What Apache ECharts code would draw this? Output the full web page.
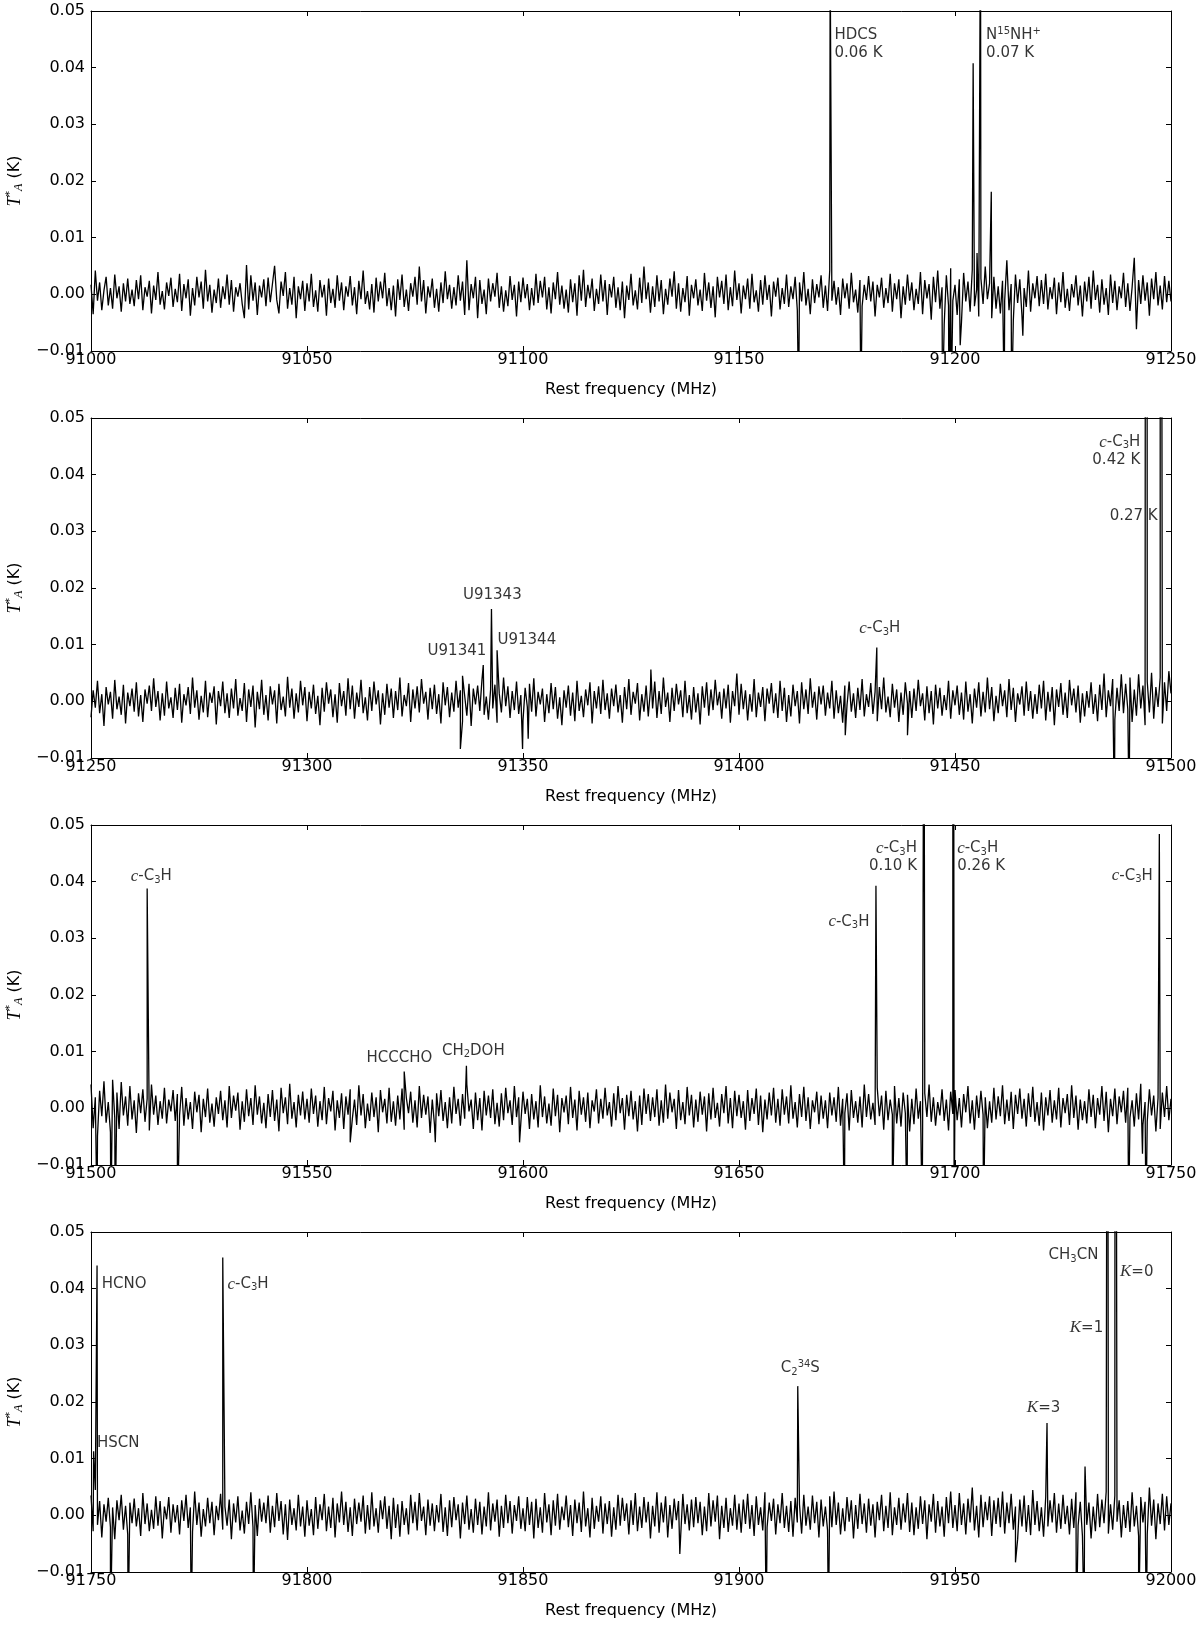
<!DOCTYPE html>
<html>
<head>
<meta charset="utf-8">
<script src="https://cdn.jsdelivr.net/npm/echarts@6/dist/echarts.min.js"></script>
<style>
  html, body { margin: 0; background: #fff; }
  #main { width: 1200px; height: 1625px; }
</style>
</head>
<body>
<div id="main"></div>
<script>
// frequency ranges of the four panels (MHz)
const panelStart = [91000, 91250, 91500, 91750];
const panelEnd = [91250, 91500, 91750, 92000];
const freqTickStep = 50;
const tempMin = -0.01, tempMax = 0.05, tempTickStep = 0.01;

// baseline channels, every 0.5 MHz, in steps of 0.14 mK
const noiseStep = 0.5;
const noiseUnit = 0.00014;
const noise1 = [
  12,-25,30,-8,15,-20,5,22,-14,8,-18,25,-5,10,-22,14,-9,20,-12,6,
  -15,18,-6,24,-20,9,-3,17,-24,11,-7,28,-13,4,-19,15,-2,21,-16,7,
  -10,26,-21,13,-5,19,-27,8,-14,22,-4,16,-18,31,-9,12,-23,6,-11,20,
  -17,10,-6,25,-13,18,-22,9,-3,14,-12,-30,37,-19,24,-8,15,-26,11,-4,
  19,-15,21,-10,13,36,-7,-24,16,-2,28,-18,8,-13,22,-30,10,-6,17,-21,
  14,-9,26,-16,5,-22,18,-4,12,-27,20,-11,7,-17,24,-8,15,-20,10,-3,
  23,-14,9,-25,17,-6,30,-12,4,-19,13,-23,21,-9,16,-5,27,-15,8,-20,
  11,-28,19,-7,25,-16,6,-21,14,-3,22,-13,35,-9,18,-24,10,-4,20,-17,
  7,-22,15,-11,29,-6,12,-18,9,-14,24,-8,16,-26,43,-20,13,-5,22,-30,
  18,-12,6,-25,20,-9,14,-3,27,-17,10,-22,5,-15,23,-7,12,-28,16,-10,
  21,-5,13,-20,8,-14,26,-11,17,-4,22,-19,9,-24,15,-6,28,-13,11,-18,
  6,-23,19,-10,14,-27,24,-8,31,-16,12,-5,20,-21,7,-12,25,-9,18,-26,
  13,-4,22,-17,9,-20,16,-30,11,-7,26,-14,5,-19,21,-11,35,-6,15,-23,
  10,-16,24,-9,18,-25,7,-13,20,-3,29,-18,14,-22,8,-10,23,-27,12,-5,
  19,-14,6,-21,27,-8,15,-17,10,-29,22,-4,17,-12,25,-20,9,-15,30,-7,
  14,-24,11,-6,20,-18,26,-10,5,-22,18,-13,24,-7,12,-28,16,-3,21,-19,
  8,-12,25,-16,10,-6,22,-20,15,-9,28,-14,7,-25,19,-11,13,-4,24,-17,
  11,-21,30,-8,17,-13,9,-26,20,-5,14,-18,27,-10,6,-23,18,-15,12,-7,
  23,-9,16,-28,12,-4,21,-17,8,-11,26,-22,14,-6,19,-30,10,-13,25,-8,
  15,-20,7,-12,28,-25,18,-5,13,-32,22,-10,30,-18,9,-38,24,-14,33,-8,
  12,-26,19,-35,27,-9,16,-22,31,-15,6,-28,20,-12,35,-6,14,-30,22,-18,
  10,-24,17,-8,43,-20,13,-33,25,-11,19,-27,8,-16,30,-22,14,-5,23,-15,
  18,-12,26,-19,9,-6,21,-25,15,-10,28,-17,7,-21,13,-4,24,-14,11,-28,
  16,-9,22,-18,30,-7,12,-23,19,-13,8,-26,25,-11,17,-20,10,-5,27,-16,
  14,-21,9,46,-44,18,-12,24,-8,15,-27,20,-6,28,-14,11,-19,23,-10,17,
  -9
];
const noise2 = [
  -20,14,-8,26,-15,9,-31,18,-4,12,-22,27,-10,6,-17,21,-28,11,-6,16,
  -13,24,-19,8,-26,15,-3,20,-12,29,-7,13,-24,10,-18,25,-9,5,-21,17,
  -11,22,-27,9,-5,18,-16,30,-8,14,-23,7,-14,26,-20,11,-2,19,-29,13,
  -6,25,-15,10,-21,16,-9,28,-18,4,-12,23,-26,15,-7,20,-33,12,-10,27,
  -17,8,-24,19,-4,14,-28,22,-11,6,-19,31,-8,16,-22,10,-14,26,-5,18,
  -25,12,-9,21,-16,7,-30,17,-13,24,-3,15,-20,9,-27,23,-6,13,-18,29,
  -10,20,-22,11,-7,27,-15,5,-24,18,-12,25,-4,14,-29,10,-17,22,-8,16,
  -21,13,-11,30,-19,8,-6,23,-26,15,-9,19,-14,28,-3,12,-23,17,-10,21,
  -16,9,-28,24,-5,18,-20,11,-13,26,-8,14,-25,7,-18,22,-31,16,-4,20,
  -12,27,-17,6,-23,15,-9,21,-27,10,-14,30,-6,19,-21,13,-11,25,-16,8,
  -24,17,-7,22,-13,29,-19,12,-4,16,-26,9,-15,23,-10,18,-22,5,-30,14,
  -8,20,-18,11,-25,26,-12,7,-20,15,-5,24,-28,13,-9,19,-16,27,-11,10,
  -22,16,-6,21,-14,8,-27,18,-10,28,-17,12,-3,23,-24,9,-13,20,-19,15,
  -9,25,-21,13,-16,30,-7,11,-26,17,-12,22,-4,14,-20,26,-15,8,-23,18,
  -14,10,-29,19,-8,24,-18,15,-11,27,-5,12,-22,16,-9,21,-27,13,-6,35,
  -17,22,-10,14,-24,9,-13,28,-20,11,-7,18,-25,16,-3,23,-15,10,-21,26,
  -12,17,-26,8,-19,21,-6,13,-28,24,-10,15,-16,29,-8,12,-23,19,-4,20,
  -18,11,-9,26,-22,14,-15,7,-27,20,-5,25,-13,10,-21,17,-11,28,-19,9,
  -7,23,-16,12,-25,18,-10,30,-14,6,-20,22,-8,15,-26,11,-17,24,-3,13,
  -21,16,-12,27,-6,10,-24,19,-15,13,-29,21,-9,17,-18,8,-11,26,-22,14,
  -5,20,-17,11,-23,25,-13,9,-28,16,-8,24,-19,12,-14,30,-10,18,-25,7,
  -15,22,-6,14,-20,28,-11,17,-26,10,-4,19,-18,25,-12,13,-22,9,-16,21,
  -9,26,-24,12,-13,18,-30,15,-7,23,-17,11,-21,27,-5,16,-14,20,-27,10,
  -19,13,-8,24,-16,9,-25,21,-11,35,-20,14,-6,28,-23,17,-12,34,-15,22,
  -10,30,-26,15,-18,34,-9,20,-30,25,-14,36,-22,18,-7,30,-28,24,-12,38,
  10
];
const noise3 = [
  30,-25,14,-35,22,-10,34,-18,8,-30,36,-12,20,-26,33,-9,15,-22,28,-14,
  10,-31,19,-6,24,-17,12,-28,30,-8,16,-21,9,-13,26,-19,11,-4,23,-16,
  18,-9,27,-22,13,-14,8,-26,21,-5,17,-30,12,-11,25,-18,6,-23,14,-7,
  22,-15,10,-24,28,-12,16,-3,20,-27,9,-17,24,-10,13,-21,29,-8,15,-19,
  7,-25,18,-11,23,-16,11,-29,26,-6,14,-20,31,-13,8,-24,17,-9,21,-14,
  12,-18,25,-7,16,-23,9,-15,27,-20,13,-4,22,-28,10,-12,19,-26,15,-8,
  24,-13,11,-21,29,-9,18,-25,6,-16,20,-11,14,-30,23,-5,12,-19,26,-17,
  9,-22,16,-14,25,-27,13,-6,21,-18,10,-24,28,-12,17,-8,15,-31,11,-20,
  19,-10,23,-16,8,-25,14,-19,27,-7,12,-22,18,-13,30,-4,11,-26,20,-15,
  13,-28,22,-9,16,-12,24,-20,7,-23,19,-15,26,-6,10,-21,28,-11,14,-18,
  21,-7,12,-26,18,-14,9,-24,29,-11,15,-19,6,-22,25,-10,17,-30,13,-5,
  16,-20,27,-12,11,-28,22,-8,14,-17,20,-25,10,-4,24,-19,12,-13,26,-9,
  8,-23,19,-15,28,-6,13,-27,17,-10,22,-14,9,-29,16,-21,25,-7,18,-16,
  14,-11,24,-22,10,-18,30,-13,20,-5,12,-26,23,-15,8,-20,27,-9,17,-24,
  11,-17,21,-8,15,-29,19,-14,26,-12,7,-23,18,-6,28,-19,13,-25,22,-10,
  17,-12,9,-27,23,-16,13,-7,25,-21,16,-30,11,-14,20,-9,26,-18,12,-22,
  24,-8,15,-19,29,-13,8,-24,18,-11,27,-16,14,-26,10,-5,21,-20,16,-13,
  10,-25,20,-9,14,-17,27,-22,12,-6,19,-28,23,-12,9,-18,15,-24,30,-11,
  18,-14,7,-21,26,-10,16,-27,22,-15,11,-8,28,-19,13,-23,20,-6,17,-29,
  12,-20,25,-13,9,-26,19,-11,30,-17,14,-22,8,-9,24,-16,11,-28,21,-7,
  23,-15,13,-24,18,-5,28,-19,10,-27,16,-12,22,-8,14,-25,9,-18,26,-14,
  15,-10,29,-20,11,-16,21,-26,17,-7,25,-13,12,-23,19,-11,27,-17,8,-22,
  20,-28,14,-9,23,-18,10,-14,26,-24,13,-6,18,-21,29,-12,16,-27,11,-15,
  9,-19,24,-11,17,-25,13,-8,28,-16,21,-30,12,-10,25,-20,15,-5,22,-18,
  26,-12,10,-23,19,-14,31,-21,8,-17,24,-9,16,-29,13,-26,20,-11,28,-15,
  12
];
const noise4 = [
  25,-20,32,-12,18,-28,14,-8,22,-15,10,-30,19,-6,26,-18,12,-24,16,-10,
  21,-14,9,-26,28,-11,15,-20,7,-17,24,-13,18,-29,11,-5,23,-22,14,-9,
  13,-24,19,-7,26,-16,10,-21,30,-12,16,-27,8,-14,22,-10,17,-25,12,-6,
  27,-18,11,-13,20,-30,15,-9,24,-19,6,-23,17,-11,29,-15,13,-26,21,-8,
  16,-10,25,-22,12,-15,28,-7,18,-24,14,-31,20,-12,9,-19,26,-14,11,-27,
  19,-13,8,-25,23,-17,14,-6,27,-20,11,-16,22,-28,15,-9,30,-12,17,-21,
  10,-26,21,-11,16,-8,25,-23,13,-18,29,-14,9,-22,19,-5,24,-17,12,-30,
  22,-16,14,-27,18,-12,9,-24,26,-10,17,-19,28,-7,11,-25,20,-13,15,-20,
  13,-9,27,-21,10,-26,19,-15,23,-6,14,-29,16,-11,25,-18,8,-22,21,-12,
  17,-24,11,-14,29,-19,15,-8,20,-27,12,-16,26,-10,18,-23,13,-7,24,-17,
  9,-20,23,-12,17,-29,21,-16,10,-22,28,-9,14,-25,19,-13,27,-18,11,-6,
  25,-15,13,-26,20,-10,16,-21,30,-14,9,-28,22,-17,12,-8,24,-23,15,-11,
  18,-27,10,-18,26,-13,22,-7,15,-24,19,-12,28,-20,11,-16,23,-9,17,-29,
  12,-14,29,-22,16,-9,24,-28,13,-17,21,-6,18,-26,27,-11,14,-19,20,-15,
  23,-10,17,-25,11,-20,28,-14,19,-8,25,-30,12,-16,22,-21,9,-13,26,-18,
  15,-22,20,-11,27,-17,13,-26,24,-12,10,-19,29,-15,16,-7,21,-24,14,-10,
  28,-16,12,-21,18,-27,22,-9,14,-23,26,-13,11,-18,25,-10,17,-28,20,-14,
  11,-19,24,-15,30,-12,16,-24,9,-20,23,-8,19,-29,13,-17,27,-11,15,-22,
  21,-13,14,-28,17,-6,26,-20,12,-16,29,-25,10,-12,22,-18,15,-9,28,-21,
  16,-25,10,-17,24,-11,19,-30,14,-8,27,-22,18,-14,11,-27,23,-10,30,-16,
  13,-20,28,-12,15,-24,21,-9,35,-19,12,-28,26,-15,17,-6,24,-26,19,-11,
  22,-15,30,-23,16,-10,27,-18,11,-30,20,-14,25,-21,13,-25,32,-12,18,-20,
  10,-27,23,-14,19,-9,28,-22,15,-17,26,-11,12,-24,21,-16,29,-13,17,-26,
  24,-12,16,-29,11,-20,27,-15,20,-10,30,-23,14,-18,25,-8,19,-28,13,-16,
  18,-21,29,-14,12,-26,23,-9,17,-24,35,-13,20,-30,15,-11,27,-19,24,-12,
  15
];

// emission lines and spikes: frequency (MHz) and peak T*A (K)
const lineFreq1 = [91171.1, 91204.2, 91205.1, 91205.9, 91208.4,
  91163.8, 91178.2, 91197.1, 91198.6, 91199.1, 91201.2, 91211.4, 91213.1, 91215.7];
const lineTemp1 = [0.06, 0.0408, 0.0073, 0.07, 0.0181,
  -0.02, -0.02, -0.02, -0.02, -0.02, -0.009, -0.02, -0.02, -0.0073];
const lineFreq2 = [91340.8, 91342.7, 91344.0, 91431.9, 91494.3, 91497.5, 91336.0, 91379.6,
  91335.5, 91349.9, 91351.2, 91424.6, 91439.0, 91486.9, 91490.3];
const lineTemp2 = [0.0064, 0.0163, 0.009, 0.0095, 0.42, 0.27, 0.0045, 0.0056,
  -0.0084, -0.0084, -0.0066, -0.006, -0.006, -0.02, -0.02];
const lineFreq3 = [91513.0, 91572.5, 91586.9, 91681.7, 91692.8, 91699.5, 91747.3,
  91501.4, 91504.6, 91505.6, 91520.0, 91674.4, 91685.5, 91688.9, 91692.4, 91699.8,
  91706.6, 91740.2, 91744.2, 91743.4, 91560.0, 91579.7, 91599.2];
const lineTemp3 = [0.0388, 0.0065, 0.0075, 0.0393, 0.10, 0.26, 0.0484,
  -0.02, -0.02, -0.02, -0.02, -0.02, -0.02, -0.02, -0.02, -0.02,
  -0.02, -0.02, -0.02, -0.008, -0.006, -0.006, -0.006];
const lineFreq4 = [91750.6, 91751.4, 91780.5, 91913.6, 91971.3, 91980.1, 91985.3, 91987.1,
  91754.5, 91758.6, 91773.2, 91787.6, 91906.3, 91920.7, 91978.1, 91979.9, 91992.5, 91994.3,
  91964.0, 91886.3];
const lineTemp4 = [0.0113, 0.0441, 0.0455, 0.0228, 0.0163, 0.0086, 0.15, 0.2,
  -0.02, -0.02, -0.02, -0.02, -0.02, -0.02, -0.02, -0.02, -0.02, -0.02,
  -0.0083, -0.0068];

// line identifications
const labelText1 = ['HDCS\n0.06 K', 'N{sp|15}NH{sp|+}\n0.07 K'];
const labelFreq1 = [91172.1, 91207.2];
const labelTemp1 = [0.0442, 0.0442];
const labelAlign1 = ['left', 'left'];
const labelText2 = ['{i|c}-C{sb|3}H\n0.42 K', '0.27 K', '{i|c}-C{sb|3}H', 'U91343', 'U91341', 'U91344'];
const labelFreq2 = [91492.9, 91485.8, 91432.6, 91342.9, 91341.5, 91344.1];
const labelTemp2 = [0.0442, 0.0327, 0.01285, 0.0188, 0.0088, 0.01085];
const labelAlign2 = ['right', 'left', 'center', 'center', 'right', 'left'];
const labelText3 = ['{i|c}-C{sb|3}H', 'HCCCHO', 'CH{sb|2}DOH', '{i|c}-C{sb|3}H',
  '{i|c}-C{sb|3}H\n0.10 K', '{i|c}-C{sb|3}H\n0.26 K', '{i|c}-C{sb|3}H'];
const labelFreq3 = [91513.96, 91571.4, 91588.5, 91680.2, 91691.2, 91700.5, 91745.8];
const labelTemp3 = [0.0409, 0.0089, 0.0101, 0.0329, 0.04435, 0.04435, 0.041];
const labelAlign3 = ['center', 'center', 'center', 'right', 'right', 'left', 'right'];
const labelText4 = ['HCNO', '{i|c}-C{sb|3}H', 'HSCN', 'C{sb|2}{sp|34}S', 'CH{sb|3}CN',
  '{i|K}=0', '{i|K}=1', '{i|K}=3'];
const labelFreq4 = [91752.5, 91781.6, 91751.4, 91914.2, 91983.2, 91988.2, 91984.3, 91970.5];
const labelTemp4 = [0.0408, 0.0408, 0.0128, 0.0259, 0.0459, 0.043, 0.0331, 0.019];
const labelAlign4 = ['left', 'left', 'left', 'center', 'right', 'left', 'right', 'center'];

const noises = [noise1, noise2, noise3, noise4];
const lineFreqs = [lineFreq1, lineFreq2, lineFreq3, lineFreq4];
const lineTemps = [lineTemp1, lineTemp2, lineTemp3, lineTemp4];
const labelTexts = [labelText1, labelText2, labelText3, labelText4];
const labelFreqs = [labelFreq1, labelFreq2, labelFreq3, labelFreq4];
const labelTemps = [labelTemp1, labelTemp2, labelTemp3, labelTemp4];
const labelAligns = [labelAlign1, labelAlign2, labelAlign3, labelAlign4];

function buildSpectrum(start, noise, freqs, temps) {
  const pts = noise.map((v, i) => [start + i * noiseStep, v * noiseUnit]);
  freqs.forEach((f, i) => pts.push([f, temps[i]]));
  pts.sort((a, b) => a[0] - b[0]);
  return pts;
}

const font = 'DejaVu Sans';
const richStyles = {
  i: { fontFamily: 'Liberation Serif', fontStyle: 'italic', fontSize: 17, color: '#000' },
  sb: { fontFamily: font, fontSize: 10, lineHeight: 10, verticalAlign: 'bottom', color: '#000' },
  sp: { fontFamily: font, fontSize: 10, lineHeight: 10, verticalAlign: 'top', color: '#000' }
};
const tempFormat = v => (v < 0 ? '\u2212' : '') + Math.abs(v).toFixed(2);

const chart = echarts.init(document.getElementById('main'), null, { renderer: 'canvas' });

const grid = [], xAxis = [], yAxis = [], series = [];
for (let p = 0; p < 4; p++) {
  grid.push({ left: 91, right: 29, top: 11 + p * 407, height: 340, outerBoundsMode: 'none' });
  const tick = { show: true, inside: true, length: 5, lineStyle: { color: '#000', width: 1 } };
  const axLine = { show: true, onZero: false, lineStyle: { color: '#000', width: 1 } };
  xAxis.push({
    type: 'value', gridIndex: p, position: 'bottom',
    min: panelStart[p], max: panelEnd[p], interval: freqTickStep,
    axisLine: axLine, axisTick: tick, splitLine: { show: false },
    axisLabel: { color: '#000', fontSize: 16, fontFamily: font, margin: 1, formatter: v => String(v) },
    name: 'Rest frequency (MHz)', nameLocation: 'middle', nameGap: 31,
    nameTextStyle: { color: '#000', fontSize: 16, fontFamily: font }
  });
  xAxis.push({
    type: 'value', gridIndex: p, position: 'top',
    min: panelStart[p], max: panelEnd[p], interval: freqTickStep,
    axisLine: axLine, axisTick: tick, splitLine: { show: false }, axisLabel: { show: false }
  });
  yAxis.push({
    type: 'value', gridIndex: p, position: 'left',
    min: tempMin, max: tempMax, interval: tempTickStep,
    axisLine: axLine, axisTick: tick, splitLine: { show: false },
    axisLabel: { color: '#000', fontSize: 16, fontFamily: font, margin: 6, formatter: tempFormat },
    name: '{t|T}{sp|*}{sb|A} (K)', nameLocation: 'middle', nameRotate: 90, nameGap: 60,
    nameTextStyle: {
      color: '#000', fontSize: 16, fontFamily: font, lineHeight: 20,
      rich: {
        t: { fontFamily: 'Liberation Serif', fontStyle: 'italic', fontSize: 18, color: '#000' },
        sp: { fontFamily: font, fontSize: 11, lineHeight: 11, verticalAlign: 'top', color: '#000' },
        sb: { fontFamily: 'Liberation Serif', fontStyle: 'italic', fontSize: 12, lineHeight: 11, verticalAlign: 'bottom', color: '#000' }
      }
    }
  });
  yAxis.push({
    type: 'value', gridIndex: p, position: 'right',
    min: tempMin, max: tempMax, interval: tempTickStep,
    axisLine: axLine, axisTick: tick, splitLine: { show: false }, axisLabel: { show: false }
  });

  series.push({
    type: 'line', xAxisIndex: 2 * p, yAxisIndex: 2 * p,
    data: buildSpectrum(panelStart[p], noises[p], lineFreqs[p], lineTemps[p]),
    showSymbol: false, symbol: 'none', clip: true, silent: true,
    lineStyle: { color: '#000', width: 1.3 }
  });
  series.push({
    type: 'scatter', xAxisIndex: 2 * p, yAxisIndex: 2 * p,
    symbolSize: 0, itemStyle: { color: 'rgba(0,0,0,0)' }, silent: true,
    data: labelTexts[p].map((t, i) => ({
      name: t,
      value: [labelFreqs[p][i], labelTemps[p][i]],
      label: { align: labelAligns[p][i] }
    })),
    label: {
      show: true, position: [0, 0], verticalAlign: 'middle',
      formatter: prm => prm.name,
      color: '#000', fontSize: 15, fontFamily: font, lineHeight: 17.5,
      textBorderWidth: 0, rich: richStyles
    }
  });
}

chart.setOption({
  animation: false,
  backgroundColor: '#fff',
  grid: grid,
  xAxis: xAxis,
  yAxis: yAxis,
  series: series
});
</script>
</body>
</html>
